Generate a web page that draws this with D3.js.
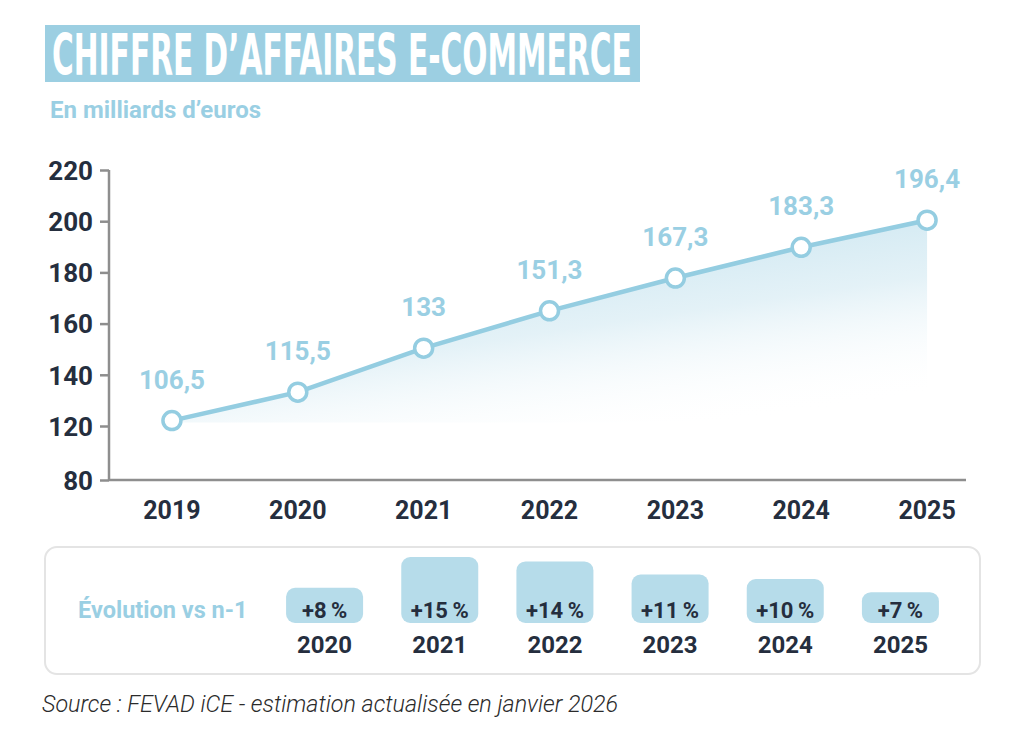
<!DOCTYPE html>
<html lang="fr">
<head>
<meta charset="utf-8">
<script src="https://cdn.jsdelivr.net/npm/d3@7"></script>
<style>
  html, body { margin: 0; padding: 0; background: #fff; }
  svg { display: block; }
</style>
</head>
<body>
<svg id="chart" width="1024" height="748"></svg>
<script>
// --- data ---
const years = ["2019", "2020", "2021", "2022", "2023", "2024", "2025"];
const caLabels = ["106,5", "115,5", "133", "151,3", "167,3", "183,3", "196,4"];
// point heights as drawn against the chart's own axis
const caLevels = [122.1, 133.2, 150.4, 165.0, 177.8, 189.8, 200.4];
const yTicks = [80, 120, 140, 160, 180, 200, 220];

const evoYears = ["2020", "2021", "2022", "2023", "2024", "2025"];
const evoValues = [8, 15, 14, 11, 10, 7];

const blue = "#94cde1";
const lightText = "#9acfe3";
const dark = "#252e3e";
const barFill = "#b6dcea";

const svg = d3.select("#chart");

// Title block
svg.append("rect")
    .attr("x", 45).attr("y", 25)
    .attr("width", 595).attr("height", 57)
    .attr("fill", "#9ccfe2");

// condensed title: measure natural width, then squeeze it to fit the band
const title = svg.append("text")
    .attr("x", 0).attr("y", 0)
    .style("font-family", "'Liberation Sans Narrow', 'DejaVu Sans Condensed', Roboto, sans-serif")
    .style("font-weight", "700")
    .style("font-size", "57px")
    .style("fill", "#fff")
    .text("CHIFFRE D’AFFAIRES E-COMMERCE");
const titleW = title.node().getComputedTextLength();
title.attr("transform", `translate(52,75) scale(${580 / titleW},1)`);

svg.append("text")
    .attr("x", 50).attr("y", 118)
    .style("font-family", "Roboto, sans-serif")
    .style("font-weight", "700")
    .style("font-size", "24px")
    .style("fill", lightText)
    .text("En milliards d’euros");

// --- scales ---
const x = d3.scaleBand()
    .domain(years)
    .range([109, 990])
    .padding(0);

// broken axis: 80 sits one step below 120
const y = d3.scaleLinear()
    .domain([80, 120, 220])
    .range([480, 426, 170]);

const g = svg.append("g");

// Area gradient
const defs = svg.append("defs");
const grad = defs.append("linearGradient")
    .attr("id", "areaGrad")
    .attr("x1", "0.2").attr("y1", "0")
    .attr("x2", "0.75").attr("y2", "1");
grad.append("stop").attr("offset", "0%").attr("stop-color", "#a9d6e8").attr("stop-opacity", 0.8);
grad.append("stop").attr("offset", "55%").attr("stop-color", "#c8e4ef").attr("stop-opacity", 0.5);
grad.append("stop").attr("offset", "100%").attr("stop-color", "#ffffff").attr("stop-opacity", 0);

const pts = years.map((yr, i) => ({ year: yr, level: caLevels[i], label: caLabels[i] }));
const cx = d => x(d.year) + x.bandwidth() / 2;

const area = d3.area()
    .x(cx)
    .y0(y(caLevels[0]) + 2)
    .y1(d => y(d.level));

g.append("path")
    .datum(pts)
    .attr("d", area)
    .attr("fill", "url(#areaGrad)");

// Axes
const yAxis = g.append("g")
    .attr("transform", "translate(109,0)")
    .call(d3.axisLeft(y).tickValues(yTicks).tickSize(9).tickPadding(7).tickFormat(d3.format("d")));
yAxis.select(".domain").attr("d", `M0,${y(220)}V${y(80)}`);

const xAxis = g.append("g")
    .attr("transform", `translate(0,${y(80)})`)
    .call(d3.axisBottom(x).tickSize(0).tickPadding(21));
xAxis.select(".domain").attr("d", "M109,0H966");

[yAxis, xAxis].forEach(ax => {
    ax.selectAll(".domain, .tick line")
        .attr("stroke", "#8e8e8e")
        .attr("stroke-width", 2.5);
    ax.selectAll(".tick text")
        .style("font-family", "Roboto, sans-serif")
        .style("font-weight", "700")
        .style("font-size", "25px")
        .style("fill", dark);
});
yAxis.selectAll(".tick text").attr("dy", "0.36em").style("font-size", "26px");

// Line and points
g.append("path")
    .datum(pts)
    .attr("d", d3.line().x(cx).y(d => y(d.level)))
    .attr("fill", "none")
    .attr("stroke", blue)
    .attr("stroke-width", 4.5);

g.selectAll(".dot")
    .data(pts)
    .enter().append("circle")
    .attr("class", "dot")
    .attr("cx", cx)
    .attr("cy", d => y(d.level))
    .attr("r", 9)
    .attr("fill", "#fff")
    .attr("stroke", blue)
    .attr("stroke-width", 3.5);

g.selectAll(".val")
    .data(pts)
    .enter().append("text")
    .attr("class", "val")
    .attr("x", cx)
    .attr("y", d => y(d.level) - 32)
    .attr("text-anchor", "middle")
    .style("font-family", "Roboto, sans-serif")
    .style("font-weight", "700")
    .style("font-size", "26px")
    .style("fill", lightText)
    .text(d => d.label);

// --- evolution panel ---
svg.append("rect")
    .attr("x", 45).attr("y", 547)
    .attr("width", 935).attr("height", 127)
    .attr("rx", 12)
    .attr("fill", "#fff")
    .attr("stroke", "#e4e4e4")
    .attr("stroke-width", 2);

svg.append("text")
    .attr("x", 78).attr("y", 618)
    .style("font-family", "Roboto, sans-serif")
    .style("font-weight", "700")
    .style("font-size", "23.5px")
    .style("fill", lightText)
    .text("Évolution vs n-1");

const ex = d3.scaleBand()
    .domain(evoYears)
    .range([267, 958])
    .padding(0);
const eh = d3.scaleLinear().domain([0, 15]).range([0, 66]);
const barBase = 623;
const barW = 77;

const evo = svg.selectAll(".evo")
    .data(evoYears.map((yr, i) => ({ year: yr, v: evoValues[i] })))
    .enter().append("g")
    .attr("class", "evo")
    .attr("transform", d => `translate(${ex(d.year) + ex.bandwidth() / 2},0)`);

evo.append("rect")
    .attr("x", -barW / 2)
    .attr("y", d => barBase - eh(d.v))
    .attr("width", barW)
    .attr("height", d => eh(d.v))
    .attr("rx", 9)
    .attr("fill", barFill);

evo.append("text")
    .attr("y", 618)
    .attr("text-anchor", "middle")
    .style("font-family", "Roboto, sans-serif")
    .style("font-weight", "700")
    .style("font-size", "22px")
    .style("fill", dark)
    .text(d => `+${d.v}\u2009%`);

evo.append("text")
    .attr("y", 653)
    .attr("text-anchor", "middle")
    .style("font-family", "Roboto, sans-serif")
    .style("font-weight", "700")
    .style("font-size", "24px")
    .style("fill", dark)
    .text(d => d.year);

// Source
svg.append("text")
    .attr("x", 42).attr("y", 712)
    .style("font-family", "Roboto, sans-serif")
    .style("font-weight", "300")
    .style("font-style", "italic")
    .style("font-size", "23.3px")
    .style("fill", "#2b2b2b")
    .text("Source : FEVAD iCE - estimation actualisée en janvier 2026");
</script>
</body>
</html>
